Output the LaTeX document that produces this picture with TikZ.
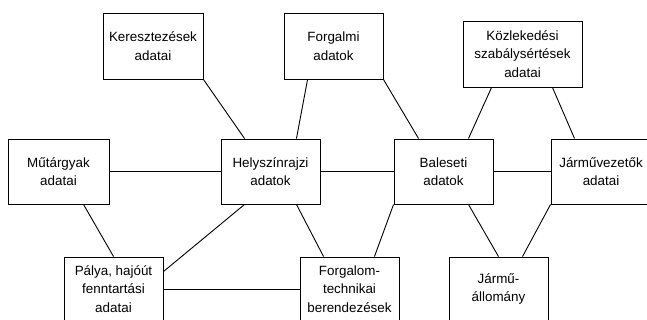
\documentclass[tikz,border=0pt]{standalone}
\usepackage{fontspec}
\setmainfont{Liberation Sans}
\begin{document}
\begin{tikzpicture}[x=1pt,y=-1pt,
  box/.style={draw, line width=0.9pt, inner sep=0pt, align=center,
    minimum width=99pt, minimum height=65pt,
    font=\fontsize{13.4pt}{18.5pt}\selectfont},
  link/.style={line width=0.9pt}]
\useasboundingbox (0,0) rectangle (647,320);
\clip (0,0) rectangle (647,320);
\node[box, minimum width=100pt, minimum height=66pt] (ker) at (153,46) {Keresztezések\\adatai};
\node[box, minimum height=66pt] (forg) at (333.5,46) {Forgalmi\\adatok};
\node[box, minimum width=119pt, minimum height=66pt] (kozl) at (522.5,54) {Közlekedési\\szabálysértések\\adatai};
\node[box, minimum width=101pt] (mut) at (58.5,171.5) {Műtárgyak\\adatai};
\node[box] (hel) at (270.5,171.5) {Helyszínrajzi\\adatok};
\node[box] (bal) at (443.5,171.5) {Baleseti\\adatok};
\node[box, minimum width=100pt] (jv) at (601,171.5) {Járművezetők\\adatai};
\node[box, minimum height=64pt] (pal) at (113.5,289) {Pálya, hajóút\\fenntartási\\adatai};
\node[box, minimum height=64pt] (fte) at (349.5,289) {Forgalom-\\technikai\\berendezések};
\node[box, minimum height=64pt] (jal) at (498.5,289) {Jármű-\\állomány};
\draw[link] (ker.south east) -- ([xshift=24pt]hel.north west);
\draw[link] ([xshift=24pt]forg.south west) -- ([xshift=-24pt]hel.north east);
\draw[link] (forg.south east) -- ([xshift=25pt]bal.north west);
\draw[link] ([xshift=29pt]kozl.south west) -- ([xshift=-25pt]bal.north east);
\draw[link] ([xshift=-30pt]kozl.south east) -- ([xshift=24pt]jv.north west);
\draw[link] (mut.east) -- (hel.west);
\draw[link] (hel.east) -- (bal.west);
\draw[link] (bal.east) -- (jv.west);
\draw[link] ([xshift=25pt]mut.south) -- ([xshift=50pt]pal.north west);
\draw[link] ([xshift=24pt]hel.south west) -- ([yshift=-15pt]pal.north east);
\draw[link] ([xshift=-24pt]hel.south east) -- ([xshift=24pt]fte.north west);
\draw[link] (pal.east) -- (fte.west);
\draw[link] (bal.south west) -- ([xshift=-25pt]fte.north east);
\draw[link] ([xshift=-25pt]bal.south east) -- (jal.north);
\draw[link] (jv.south west) -- ([xshift=24pt]jal.north);
\end{tikzpicture}
\end{document}
